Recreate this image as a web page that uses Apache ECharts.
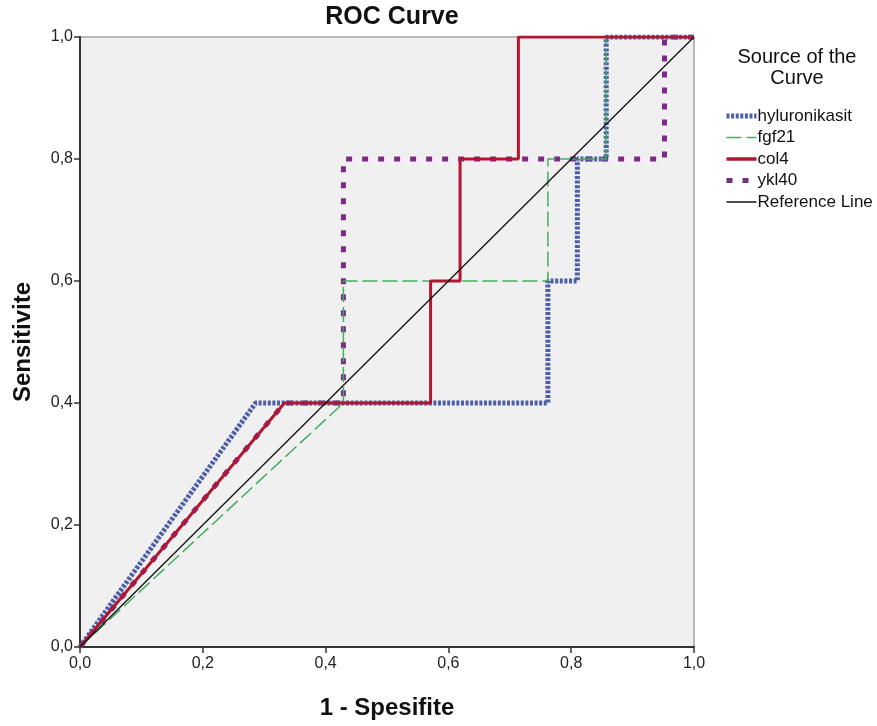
<!DOCTYPE html>
<html>
<head>
<meta charset="utf-8">
<script src="https://cdn.jsdelivr.net/npm/echarts@6/dist/echarts.min.js"></script>
<style>
  html, body { margin: 0; padding: 0; background: #fff; }
  #main { width: 877px; height: 726px; }
</style>
</head>
<body>
<div id="main"></div>
<script>
'use strict'
// ROC points (1 - spesifite, sensitivite)
var hyluX = [0, 0.286, 0.762, 0.762, 0.810, 0.810, 0.857, 0.857, 1];
var hyluY = [0, 0.4,   0.4,   0.6,   0.6,   0.8,   0.8,   1.0,   1];
var fgfX  = [0, 0.429, 0.429, 0.762, 0.762, 0.857, 0.857, 1];
var fgfY  = [0, 0.4,   0.6,   0.6,   0.8,   0.8,   1.0,   1];
var colX  = [0, 0.333, 0.571, 0.571, 0.619, 0.619, 0.714, 0.714, 1];
var colY  = [0, 0.4,   0.4,   0.6,   0.6,   0.8,   0.8,   1.0,   1];
var yklX  = [0, 0.333, 0.429, 0.429, 0.952, 0.952, 1];
var yklY  = [0, 0.4,   0.4,   0.8,   0.8,   1.0,   1];
var refX  = [0, 1];
var refY  = [0, 1];

var legendNames = ['hyluronikasit', 'fgf21', 'col4', 'ykl40', 'Reference Line'];
var legendWidths = [5, 1.5, 3.5, 5, 1.5];

function pairs(xs, ys) {
    return xs.map(function (x, i) { return [x, ys[i]]; });
}
function comma(v) {
    return v.toFixed(1).replace('.', ',');
}

var myChart = echarts.init(document.getElementById('main'));
var font = 'Liberation Sans, Arial, sans-serif';

myChart.setOption({
    animation: false,
    backgroundColor: '#ffffff',
    title: {
        text: 'ROC Curve',
        left: 387,
        top: 0,
        textAlign: 'center',
        textStyle: { fontFamily: font, fontSize: 25, fontWeight: 'bold', color: '#111' }
    },
    legend: {
        data: legendNames.map(function (n, i) {
            return { name: n, lineStyle: { width: legendWidths[i] } };
        }),
        orient: 'vertical',
        left: 719,
        top: 101,
        itemWidth: 30,
        itemHeight: 14,
        itemGap: 1.5,
        itemStyle: { opacity: 0 },
        textStyle: { fontFamily: font, fontSize: 17, color: '#111', lineHeight: 20, padding: [0, 0, 0, -4] }
    },
    graphic: [{
        type: 'text',
        x: 797,
        y: 47,
        style: {
            text: 'Source of the\nCurve',
            fontFamily: font,
            fontSize: 20,
            lineHeight: 21,
            align: 'center',
            verticalAlign: 'top',
            fill: '#111'
        }
    }],
    grid: {
        left: 80,
        right: 183,
        top: 37,
        bottom: 79,
        outerBoundsMode: 'none',
        containLabel: false,
        show: true,
        backgroundColor: '#f0f0f0',
        borderColor: '#777',
        borderWidth: 1
    },
    xAxis: {
        type: 'value',
        min: 0,
        max: 1,
        interval: 0.2,
        name: '1 - Spesifite',
        nameLocation: 'middle',
        nameGap: 49,
        nameTextStyle: { fontFamily: font, fontSize: 24, fontWeight: 'bold', color: '#111' },
        axisLine: { lineStyle: { color: '#333', width: 2 } },
        axisTick: { show: true, length: 6, lineStyle: { color: '#333', width: 1.5 } },
        axisLabel: { fontFamily: font, fontSize: 16, color: '#222', margin: 9, formatter: comma },
        splitLine: { show: false }
    },
    yAxis: {
        type: 'value',
        min: 0,
        max: 1,
        interval: 0.2,
        name: 'Sensitivite',
        nameLocation: 'middle',
        nameGap: 45,
        nameTextStyle: { fontFamily: font, fontSize: 24, fontWeight: 'bold', color: '#111' },
        axisLine: { show: true, lineStyle: { color: '#333', width: 2 } },
        axisTick: { show: true, length: 6, lineStyle: { color: '#333', width: 1.5 } },
        axisLabel: { fontFamily: font, fontSize: 16, color: '#222', margin: 7, formatter: comma },
        splitLine: { show: false }
    },
    series: [
        {
            name: 'ykl40',
            type: 'line',
            symbol: 'none',
            z: 2,
            lineStyle: { color: '#7a2b84', width: 5, type: [6, 10] },
            itemStyle: { color: '#7a2b84' },
            data: pairs(yklX, yklY)
        },
        {
            name: 'hyluronikasit',
            type: 'line',
            symbol: 'none',
            z: 3,
            lineStyle: { color: '#4c5ea8', width: 5, type: [3, 1.6] },
            itemStyle: { color: '#4c5ea8' },
            data: pairs(hyluX, hyluY)
        },
        {
            name: 'fgf21',
            type: 'line',
            symbol: 'none',
            z: 4,
            lineStyle: { color: '#43ad5e', width: 1.5, type: [15, 5] },
            itemStyle: { color: '#43ad5e' },
            data: pairs(fgfX, fgfY)
        },
        {
            name: 'col4',
            type: 'line',
            symbol: 'none',
            z: 5,
            lineStyle: { color: '#b3172f', width: 3, type: 'solid' },
            itemStyle: { color: '#b3172f' },
            data: pairs(colX, colY)
        },
        {
            name: 'Reference Line',
            type: 'line',
            symbol: 'none',
            z: 6,
            lineStyle: { color: '#111', width: 1.3 },
            itemStyle: { color: '#111' },
            data: pairs(refX, refY)
        }
    ]
});
</script>
</body>
</html>
